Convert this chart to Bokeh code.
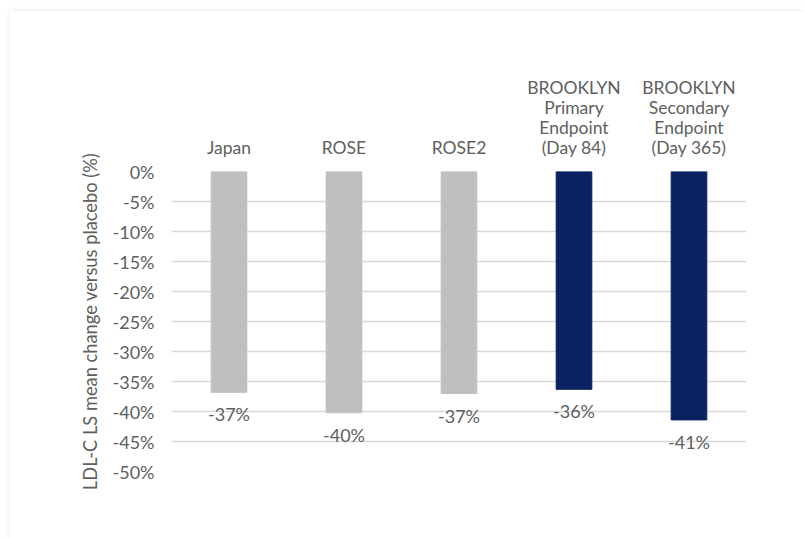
from bokeh.plotting import figure
from bokeh.models import ColumnDataSource, FactorRange, FixedTicker, CustomJSTickFormatter
from bokeh.core.properties import value
from bokeh.embed import file_html
from bokeh.resources import INLINE

categories = ["Japan", "ROSE", "ROSE2",
              "BROOKLYN\nPrimary\nEndpoint\n(Day 84)",
              "BROOKLYN\nSecondary\nEndpoint\n(Day 365)"]
values = [-36.8, -40.2, -37.0, -36.3, -41.4]
labels = ["-37%", "-40%", "-37%", "-36%", "-41%"]
colors = ["#bfbfbf", "#bfbfbf", "#bfbfbf", "#0a2262", "#0a2262"]
y_ticks = [0, -5, -10, -15, -20, -25, -30, -35, -40, -45, -50]

FONT = "Lato"
TXT = "#606060"

src = ColumnDataSource(dict(cat=categories, val=values, lab=labels, col=colors))

p = figure(width=794, height=527, x_range=FactorRange(*categories), y_range=(-50, 0),
           output_backend="svg", toolbar_location=None, x_axis_location="above",
           min_border_left=161, min_border_right=58, min_border_top=160, min_border_bottom=67)
p.margin = (11, 0, 0, 10)
p.styles = {"box-shadow": "0 0 5px rgba(0,0,0,0.10)"}
p.outline_line_color = None
p.background_fill_color = "white"
p.border_fill_color = "white"

p.vbar(x="cat", top=0, bottom="val", width=0.31, color="col", source=src)
p.text(x="cat", y="val", text="lab", source=src, y_offset=11,
       text_align="center", text_baseline="top", text_font=value(FONT),
       text_font_size="18px", text_color=TXT)

p.xgrid.visible = False
p.ygrid.grid_line_color = "#d9d9d9"
p.ygrid.grid_line_width = 1.3

ya = p.yaxis[0]
ya.ticker = FixedTicker(ticks=y_ticks)
ya.formatter = CustomJSTickFormatter(code="return tick + '%';")
ya.axis_line_color = None
ya.major_tick_line_color = None
ya.minor_tick_line_color = None
ya.major_label_text_font = FONT
ya.major_label_text_font_size = "18px"
ya.major_label_text_color = TXT
ya.major_label_standoff = 11
ya.axis_label = "LDL-C LS mean change versus placebo (%)"
ya.axis_label_text_font = FONT
ya.axis_label_text_font_size = "18.3px"
ya.axis_label_text_font_style = "normal"
ya.axis_label_text_color = TXT
ya.axis_label_standoff = 9

xa = p.xaxis[0]
xa.axis_line_color = None
xa.major_tick_line_color = None
xa.minor_tick_line_color = None
xa.major_label_text_font = FONT
xa.major_label_text_font_size = "17.5px"
xa.major_label_text_color = TXT
xa.major_label_text_line_height = 0.95
xa.major_label_standoff = 8
xa.major_label_orientation = "horizontal"

open("out.html", "w").write(file_html(p, INLINE))
